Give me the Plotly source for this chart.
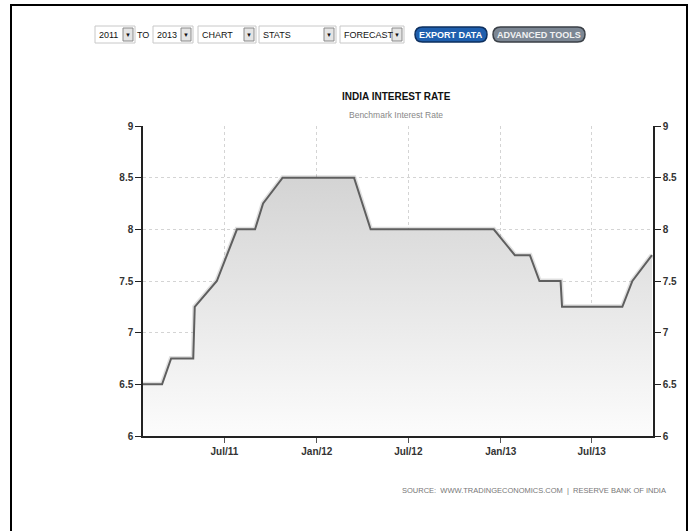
import plotly.graph_objects as go

# ---- data ----
dates = ['2011-01-20', '2011-02-27', '2011-03-17', '2011-04-30', '2011-05-03',
         '2011-06-16', '2011-07-26', '2011-08-31', '2011-09-16', '2011-10-25',
         '2012-03-15', '2012-04-17', '2012-12-18', '2013-01-29', '2013-02-28',
         '2013-03-19', '2013-04-30', '2013-05-03', '2013-08-31', '2013-09-20',
         '2013-10-29']
rates = [6.5, 6.5, 6.75, 6.75, 7.25,
         7.5, 8.0, 8.0, 8.25, 8.5,
         8.5, 8.0, 8.0, 7.75, 7.75,
         7.5, 7.5, 7.25, 7.25, 7.5,
         7.75]
x_tick_vals = ['2011-07-01', '2012-01-01', '2012-07-01', '2013-01-01', '2013-07-01']
x_tick_text = ['Jul/11', 'Jan/12', 'Jul/12', 'Jan/13', 'Jul/13']
y_tick_vals = [6, 6.5, 7, 7.5, 8, 8.5, 9]
y_tick_text = ['6', '6.5', '7', '7.5', '8', '8.5', '9']

W_PX, H_PX = 690, 531
L, R, T, B = 143, 653, 126, 436
PW, PH = R - L, B - T

FONT = "Liberation Sans, Arial, sans-serif"


def X(px):
    return (px - L) / PW


def Y(py):
    return (B - py) / PH


fig = go.Figure()

# shadow under the line
fig.add_trace(go.Scatter(x=dates, y=rates, mode='lines',
                         line=dict(color='rgba(0,0,0,0.12)', width=5),
                         hoverinfo='skip', showlegend=False))
# main area + line
fig.add_trace(go.Scatter(
    x=dates, y=rates, mode='lines', fill='tozeroy',
    fillgradient=dict(type='vertical', start=6, stop=8.6,
                      colorscale=[[0, '#fcfcfc'], [1, '#d2d2d2']]),
    line=dict(color='#5f5f5f', width=2),
    showlegend=False))
# invisible trace for right axis
fig.add_trace(go.Scatter(x=[dates[0]], y=[rates[0]], yaxis='y2', mode='markers',
                         marker=dict(opacity=0), hoverinfo='skip', showlegend=False))

shapes = []
annotations = []


def rect(x0, y0, x1, y1, line='#c8c8c8', fill='white', w=1):
    shapes.append(dict(type='rect', xref='paper', yref='paper',
                       x0=X(x0), x1=X(x1), y0=Y(y1), y1=Y(y0),
                       line=dict(color=line, width=w), fillcolor=fill, layer='above'))


def text(px, py, s, size=9, color='#111', anchor='center', bold=False):
    if bold:
        s = '<b>' + s + '</b>'
    annotations.append(dict(x=X(px), y=Y(py), xref='paper', yref='paper', text=s,
                            showarrow=False, xanchor=anchor, yanchor='middle',
                            font=dict(size=size, color=color, family=FONT)))


def pill(x0, y0, x1, y1, fill, line):
    r = (y1 - y0) / 2
    m = (y0 + y1) / 2
    path = (f"M {X(x0 + r)},{Y(y0)} L {X(x1 - r)},{Y(y0)} "
            f"Q {X(x1)},{Y(y0)} {X(x1)},{Y(m)} Q {X(x1)},{Y(y1)} {X(x1 - r)},{Y(y1)} "
            f"L {X(x0 + r)},{Y(y1)} Q {X(x0)},{Y(y1)} {X(x0)},{Y(m)} "
            f"Q {X(x0)},{Y(y0)} {X(x0 + r)},{Y(y0)} Z")
    shapes.append(dict(type='path', xref='paper', yref='paper', path=path,
                       fillcolor=fill, line=dict(color=line, width=1.5), layer='above'))


def select(x0, x1, label):
    y0, y1 = 26, 43
    rect(x0, y0, x1, y1)
    rect(x1 - 12, y0 + 2, x1 - 2, y1 - 2, line='#8a8a8a', fill='#e4e4e4')
    text(x1 - 7, 34.5, '▼', size=6, color='#111')
    text(x0 + 2, 34.5, label, anchor='left')


# outer frame
shapes.append(dict(type='rect', xref='paper', yref='paper',
                   x0=X(11), x1=X(687), y0=Y(545), y1=Y(5),
                   line=dict(color='black', width=2), fillcolor='rgba(0,0,0,0)', layer='below'))

# toolbar
select(95, 135, '2011')
text(143, 34.5, 'TO')
select(153, 193, '2013')
select(198, 256, 'CHART')
select(259, 336, 'STATS')
select(340, 404, 'FORECAST')
pill(415, 27, 487, 42, '#1f5fae', '#0d2f5e')
text(451, 34.5, 'EXPORT DATA', size=9, color='white', bold=True)
pill(493, 27, 585, 42, '#7c8794', '#3a3f46')
text(539, 34.5, 'ADVANCED TOOLS', size=9, color='#f2f2f2', bold=True)

# titles
text(396, 96, 'INDIA INTEREST RATE', size=10, color='#111', bold=True)
text(396, 115, 'Benchmark Interest Rate', size=8.5, color='#888')
text(668, 490, 'SOURCE:  WWW.TRADINGECONOMICS.COM  |  RESERVE BANK OF INDIA',
     size=7.5, color='#777', anchor='right')

tickfont = dict(family=FONT, size=10, color='#333', weight='bold')

fig.update_layout(
    width=W_PX, height=H_PX,
    margin=dict(l=L, r=W_PX - R, t=T, b=H_PX - B),
    paper_bgcolor='white', plot_bgcolor='white',
    showlegend=False,
    shapes=shapes, annotations=annotations,
    xaxis=dict(type='date', range=['2011-01-20', '2013-10-31'],
               tickvals=x_tick_vals, ticktext=x_tick_text,
               showgrid=True, gridcolor='#d4d4d4', griddash='dot', gridwidth=1,
               showline=True, linecolor='#222', linewidth=2,
               ticks='outside', ticklen=5, tickcolor='#555',
               tickfont=tickfont, zeroline=False, fixedrange=True),
    yaxis=dict(range=[6, 9], tickvals=y_tick_vals, ticktext=y_tick_text,
               showgrid=True, gridcolor='#d4d4d4', griddash='dot', gridwidth=1,
               showline=True, linecolor='#222', linewidth=1.5,
               ticks='outside', ticklen=6, tickcolor='#222',
               tickfont=tickfont, zeroline=False, fixedrange=True),
    yaxis2=dict(range=[6, 9], tickvals=y_tick_vals, ticktext=y_tick_text,
                overlaying='y', side='right', showgrid=False,
                showline=True, linecolor='#222', linewidth=1.5,
                ticks='outside', ticklen=6, tickcolor='#222',
                tickfont=tickfont, zeroline=False, fixedrange=True),
)

post = "document.body.style.margin='0';document.body.style.overflow='hidden';"

fig.write_html("out.html", config={'displayModeBar': False}, post_script=post)
